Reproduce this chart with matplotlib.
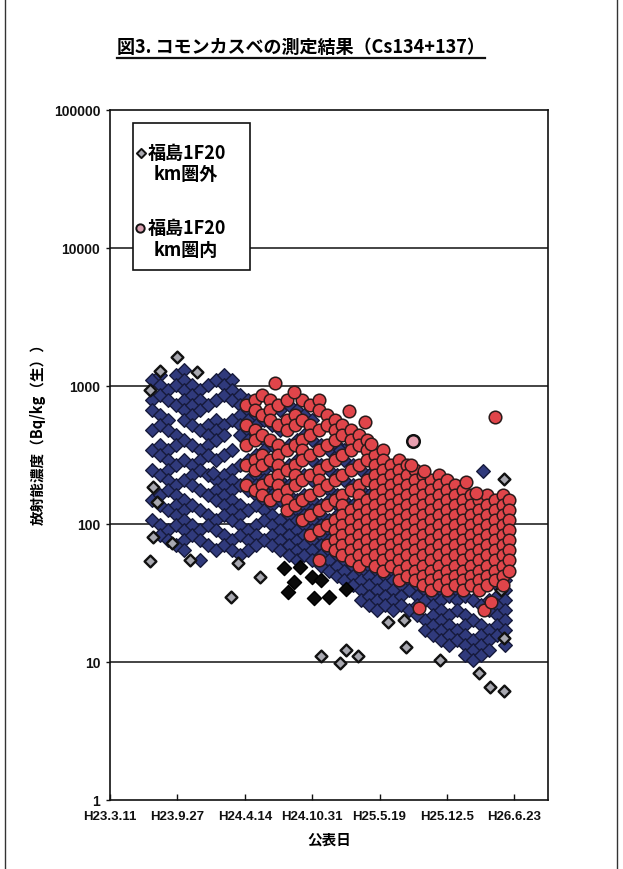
import matplotlib
matplotlib.use('Agg')
import matplotlib.pyplot as plt
from matplotlib.lines import Line2D
from matplotlib.patches import Rectangle

plt.rcParams['font.family'] = ['Noto Sans CJK JP', 'DejaVu Sans']

# ---------------- data ----------------
title = "図3. コモンカスベの測定結果（Cs134+137）"
ylabel = "放射能濃度（Bq/kg（生））"
xlabel = "公表日"
legend_outside = ["福島1F20", "km圏外"]
legend_inside = ["福島1F20", "km圏内"]

# x = days since H23.3.11 (2011-03-11)
xtick_days = [0, 200, 400, 600, 800, 1000, 1200]
xtick_labels = ["H23.3.11", "H23.9.27", "H24.4.14", "H24.10.31", "H25.5.19", "H25.12.5", "H26.6.23"]
ytick_vals = [1, 10, 100, 1000, 10000, 100000]
ytick_labels = ["1", "10", "100", "1000", "10000", "100000"]

# 福島1F20km圏外 (blue diamonds), grouped by publication day
blue_days = [125, 149, 173, 196, 220, 244, 268, 292, 315, 339, 363, 387, 411, 434, 458,
             482, 506, 530, 554, 577, 601, 625, 649, 673, 696, 720, 744, 768, 792, 815,
             839, 863, 887, 911, 934, 958, 982, 1006, 1030, 1054, 1077, 1101, 1125, 1149, 1173]
blue_vals = [
    [1105, 792, 670, 480, 344, 246, 149, 107],
    [1200, 1017, 860, 617, 522, 374, 316, 226, 162, 137, 98, 83],
    [935, 792, 567, 480, 344, 291, 246, 208, 176, 126, 90, 77],
    [1200, 1017, 729, 442, 374, 268, 191, 162, 137, 116, 98, 71],
    [1306, 1105, 935, 792, 670, 567, 406, 291, 208, 149, 126, 107, 90, 77, 65],
    [1017, 860, 729, 617, 522, 374, 268, 226, 191, 137, 98, 83],
    [935, 792, 670, 480, 344, 291, 246, 176, 126, 90, 77, 55],
    [1017, 729, 522, 442, 374, 316, 226, 162, 116, 98, 71],
    [1105, 792, 567, 480, 406, 291, 208, 176, 149, 107, 90, 65],
    [1200, 1017, 860, 522, 442, 316, 226, 191, 162, 137, 116, 83, 71],
    [1105, 935, 792, 567, 344, 246, 208, 176, 149, 126, 107, 77, 65],
    [860, 729, 617, 522, 442, 268, 191, 137, 116, 98, 83, 60],
    [792, 670, 567, 480, 406, 291, 208, 176, 126, 90, 77, 65],
    [617, 522, 442, 316, 226, 191, 162, 137, 98, 83, 71],
    [567, 406, 344, 246, 208, 176, 149, 126, 107, 77],
    [522, 374, 268, 191, 162, 137, 116, 98, 83, 71],
    [670, 480, 344, 246, 208, 176, 149, 107, 90, 77, 65],
    [729, 522, 374, 268, 191, 162, 137, 116, 98, 83, 71, 60],
    [670, 567, 406, 291, 208, 149, 126, 107, 90, 77, 65, 55],
    [617, 442, 316, 226, 162, 137, 116, 98, 83, 71, 60],
    [567, 406, 291, 208, 149, 126, 107, 90, 77, 65, 55],
    [374, 268, 191, 137, 116, 98, 83, 71, 60, 50],
    [344, 246, 176, 149, 107, 90, 77, 65, 55, 46],
    [374, 316, 226, 162, 137, 116, 98, 71, 60, 50, 42],
    [344, 291, 208, 149, 126, 90, 77, 65, 55, 46, 39],
    [268, 191, 137, 116, 98, 83, 60, 50, 42, 36],
    [246, 176, 126, 107, 90, 65, 55, 46, 39, 33, 28],
    [226, 162, 116, 98, 71, 60, 50, 42, 36, 30, 26],
    [208, 149, 107, 77, 65, 55, 46, 39, 33, 28, 24],
    [191, 137, 98, 71, 60, 50, 42, 36, 30, 26],
    [176, 126, 90, 65, 55, 46, 39, 33, 28, 24],
    [162, 116, 83, 60, 50, 42, 36, 30, 26],
    [149, 107, 77, 55, 46, 39, 33, 24],
    [137, 98, 71, 50, 42, 36, 30, 26, 22],
    [208, 126, 90, 65, 46, 39, 33, 28, 20, 17],
    [116, 83, 60, 42, 36, 30, 26, 22, 18.5, 15.7],
    [107, 77, 55, 39, 33, 28, 24, 20, 17, 14.4],
    [137, 98, 71, 50, 36, 30, 22, 18.5, 15.7, 13.3],
    [126, 90, 65, 46, 33, 28, 24, 17, 14.4],
    [162, 116, 83, 60, 42, 30, 22, 18.5, 15.7, 13.3, 11.2],
    [149, 107, 77, 55, 39, 28, 20, 14.4, 12.2, 10.3],
    [137, 98, 71, 50, 36, 26, 18.5, 15.7, 13.3, 11.2],
    [149, 107, 77, 55, 39, 28, 24, 17, 14.4, 12.2],
    [137, 98, 71, 50, 36, 30, 26, 22, 18.5, 15.7],
    [149, 107, 77, 55, 39, 33, 28, 24, 20, 17, 13.3],
]
blue_extra_days = [1107, 307, 684]
blue_extra_vals = [242, 235, 344]

# grey-filled diamonds (same outside series, scanned lighter)
grey_days = [199, 119, 149, 259, 128, 140, 119, 128, 185, 238, 381, 446, 360, 625, 699,
             735, 684, 824, 878, 979, 1095, 1128, 1170, 1170, 1161, 1170, 872]
grey_vals = [1620, 935, 1280, 1270, 185, 145, 54, 80, 73, 55, 52, 41, 29.5, 11, 12.2,
             11, 9.8, 19.5, 12.8, 10.3, 8.3, 6.6, 6.2, 14.9, 33, 212, 20]

# black diamonds
black_days = [515, 565, 545, 601, 625, 527, 604, 649, 699]
black_vals = [48, 49, 38, 41, 39, 32, 29, 29.5, 34]

# 福島1F20km圏内 (red circles), grouped by publication day
red_days = [405, 429, 452, 476, 500, 524, 548, 571, 595, 619, 643, 667, 690, 714, 738, 762,
            786, 809, 833, 857, 881, 905, 929, 953, 976, 1000, 1024, 1048, 1071, 1095, 1119,
            1143, 1167, 1184]
red_vals = [
    [729, 522, 374, 268, 191],
    [792, 670, 480, 406, 291, 246, 176],
    [860, 617, 442, 316, 268, 191, 162],
    [792, 670, 567, 406, 291, 208, 149],
    [729, 522, 374, 316, 268, 226, 191, 162],
    [792, 567, 480, 344, 246, 176, 149, 126],
    [617, 522, 374, 268, 226, 191, 137],
    [792, 567, 406, 344, 291, 208, 149, 107],
    [729, 522, 442, 316, 226, 162, 116, 83],
    [792, 670, 480, 344, 246, 208, 176, 126, 90, 55],
    [617, 522, 374, 268, 191, 137, 98, 71],
    [567, 480, 406, 291, 208, 149, 107, 90, 77, 65],
    [522, 442, 316, 226, 162, 137, 116, 98, 83, 71, 60],
    [480, 406, 344, 246, 176, 126, 107, 90, 77, 65, 55],
    [442, 374, 268, 191, 162, 137, 116, 98, 83, 71, 60, 50],
    [406, 344, 291, 208, 149, 126, 107, 90, 77, 65, 55],
    [316, 268, 226, 191, 162, 137, 116, 98, 83, 71, 60, 50],
    [344, 291, 246, 208, 176, 149, 126, 107, 90, 77, 65, 55, 46],
    [268, 226, 191, 162, 137, 116, 98, 83, 71, 60, 50],
    [291, 246, 208, 176, 149, 126, 107, 90, 77, 65, 55, 46, 39],
    [268, 226, 191, 162, 137, 116, 98, 83, 71, 60, 50, 42],
    [246, 208, 176, 149, 126, 107, 90, 77, 65, 55, 46, 39],
    [226, 191, 162, 137, 116, 98, 83, 71, 60, 50, 42, 36],
    [208, 176, 149, 126, 107, 90, 77, 65, 55, 46, 39, 33],
    [226, 191, 162, 137, 116, 98, 83, 71, 60, 50, 42, 36],
    [208, 176, 149, 126, 107, 90, 77, 65, 55, 46, 39, 33],
    [191, 162, 137, 116, 98, 83, 71, 60, 50, 42, 36],
    [176, 149, 126, 107, 90, 77, 65, 55, 46, 39, 33],
    [162, 137, 116, 98, 83, 71, 60, 50, 42, 36],
    [149, 126, 107, 90, 77, 65, 55, 46, 39, 33],
    [162, 137, 116, 98, 83, 71, 60, 50, 42, 36],
    [149, 126, 107, 90, 77, 65, 55, 46, 39],
    [162, 137, 116, 98, 83, 71, 60, 50, 42, 36],
    [149, 126, 107, 90, 77, 65, 55, 46],
]
red_extra_days = [491, 545, 708, 756, 774, 893, 932, 1057, 1086, 1143, 917, 1110, 1131]
red_extra_vals = [1052, 905, 659, 548, 380, 268, 242, 201, 168, 596, 24.5, 24, 27]
pink_days = [899]
pink_vals = [399]

# ---------------- figure ----------------
W, H = 623, 869
fig = plt.figure(figsize=(W / 100, H / 100), dpi=100)
fig.patch.set_facecolor('white')

L, R, T, B = 110, 548, 110, 800
ax = fig.add_axes([L / W, 1 - B / H, (R - L) / W, (B - T) / H])
ax.set_yscale('log')
ax.set_xlim(0, 1300)
ax.set_ylim(1, 100000)

for v in ytick_vals[1:-1]:
    ax.axhline(v, color='#111111', lw=1.1, zorder=1)

def expand(days, vals):
    xs, ys = [], []
    for d, col in zip(days, vals):
        for v in col:
            xs.append(d)
            ys.append(v)
    return xs, ys

bx, by = expand(blue_days, blue_vals)
bx += blue_extra_days
by += blue_extra_vals
rx, ry = expand(red_days, red_vals)
rx += red_extra_days
ry += red_extra_vals

ax.scatter(bx, by, marker='D', s=48, facecolor='#303a7c', edgecolor='#161a3c', lw=1.0, zorder=3)
ax.scatter(grey_days, grey_vals, marker='D', s=36, facecolor='#a8a8b0', edgecolor='#111111', lw=1.7, zorder=4)
ax.scatter(black_days, black_vals, marker='D', s=52, facecolor='#0a0a0a', edgecolor='#000000', lw=1.0, zorder=4)
ax.scatter(rx, ry, marker='o', s=82, facecolor='#e0454a', edgecolor='#2a1a1a', lw=1.1, zorder=5)
ax.scatter(pink_days, pink_vals, marker='o', s=82, facecolor='#e8a0b0', edgecolor='#111111', lw=1.8, zorder=5)

for sp in ax.spines.values():
    sp.set_color('#111111')
    sp.set_linewidth(1.2)

tick_font = dict(family=['Liberation Sans', 'DejaVu Sans'], weight='bold')
ax.set_xticks(xtick_days)
ax.set_xticklabels(xtick_labels, fontsize=9.5, **tick_font)
ax.set_yticks(ytick_vals)
ax.set_yticklabels(ytick_labels, fontsize=10, **tick_font)
ax.minorticks_off()
ax.tick_params(axis='x', direction='in', length=4, width=1, pad=8, colors='#111111')
ax.tick_params(axis='y', direction='out', length=3, width=1, pad=4, colors='#111111')

ax.set_xlabel(xlabel, fontsize=10.5, weight='bold', labelpad=6)
ax.set_ylabel(ylabel, fontsize=10.5, weight='bold')
ax.yaxis.set_label_coords(-0.146, 0.536)

# legend box
ax.add_patch(Rectangle((0.0525, 0.768), 0.267, 0.213, transform=ax.transAxes,
                       facecolor='white', edgecolor='#111111', lw=1.2, zorder=6))
ax.scatter([0.071], [0.9377], transform=ax.transAxes, marker='D', s=22,
           facecolor='#a8a8b0', edgecolor='#111111', lw=1.4, zorder=7)
ax.text(0.085, 0.9377, legend_outside[0], transform=ax.transAxes, fontsize=13,
        weight='bold', va='center', ha='left', zorder=7)
ax.text(0.1, 0.9058, legend_outside[1], transform=ax.transAxes, fontsize=13,
        weight='bold', va='center', ha='left', zorder=7)
ax.scatter([0.069], [0.829], transform=ax.transAxes, marker='o', s=36,
           facecolor='#d8a0b0', edgecolor='#111111', lw=1.4, zorder=7)
ax.text(0.085, 0.829, legend_inside[0], transform=ax.transAxes, fontsize=13,
        weight='bold', va='center', ha='left', zorder=7)
ax.text(0.1, 0.797, legend_inside[1], transform=ax.transAxes, fontsize=13,
        weight='bold', va='center', ha='left', zorder=7)

# title with underline
t = fig.text(301 / W, 1 - 47 / H, title, fontsize=13, weight='bold', ha='center', va='center')
fig.canvas.draw()
bb = t.get_window_extent()
fig.add_artist(Line2D([bb.x0 / W, bb.x1 / W], [(bb.y0 - 1) / H, (bb.y0 - 1) / H],
                      transform=fig.transFigure, color='#111111', lw=1.6))

# page border lines
fig.add_artist(Line2D([5 / W, 5 / W], [0, 1], transform=fig.transFigure, color='#333333', lw=1))
fig.add_artist(Line2D([617 / W, 617 / W], [0, 1], transform=fig.transFigure, color='#333333', lw=1))

fig.savefig('out.png', dpi=100)
